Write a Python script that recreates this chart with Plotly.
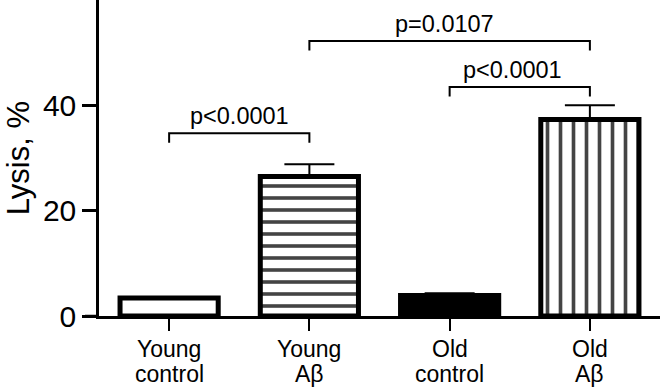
import plotly.graph_objects as go

# ---- data ----
categories = ["Young control", "Young Aβ", "Old control", "Old Aβ"]
label_line1 = ["Young", "Young", "Old", "Old"]
label_line2 = ["control", "Aβ", "control", "Aβ"]
lysis = [3.4, 26.5, 3.9, 37.3]
sem = [0.0, 2.3, 0.4, 2.7]
y_ticks = [0, 20, 40]
y_title = "Lysis, %"

# comparisons: (left index, right index, bracket height, label)
cmp_left = [0, 2, 1]
cmp_right = [1, 3, 3]
cmp_height = [34.7, 43.5, 52.2]
cmp_label = ["p<0.0001", "p<0.0001", "p=0.0107"]
cmp_label_x = [0.5, 2.45, 1.96]

FONT = "Liberation Sans, Arial, sans-serif"

fig = go.Figure()
fig.add_trace(go.Bar(
    x=list(range(len(categories))),
    y=lysis,
    width=0.7,
    marker=dict(
        color=["white", "white", "black", "white"],
        line=dict(color="black", width=5),
        pattern=dict(
            shape=["", "-", "", "|"],
            fgcolor="black",
            bgcolor="white",
            fgopacity=1,
            size=[10, 12, 10, 13],
            solidity=[0.2, 0.3, 0.2, 0.28],
        ),
    ),
    error_y=dict(type="data", symmetric=False, array=sem,
                 arrayminus=[0] * len(sem), thickness=2, width=25, color="black"),
    showlegend=False,
))

shapes = []
leg = 1.8
for l, r, h in zip(cmp_left, cmp_right, cmp_height):
    shapes.append(dict(type="path", xref="x", yref="y",
                       path=f"M {l},{h - leg} L {l},{h} L {r},{h} L {r},{h - leg}",
                       line=dict(color="black", width=2)))
# extend x-axis line left to meet y tick length
shapes.append(dict(type="line", xref="paper", yref="paper", x0=-14 / 561, x1=0,
                   y0=0, y1=0, line=dict(color="black", width=2.5)))

annotations = []
for lx, h, t in zip(cmp_label_x, cmp_height, cmp_label):
    annotations.append(dict(x=lx, y=h + 3.3, xref="x", yref="y", text=t,
                            showarrow=False, font=dict(size=23.5, color="black", family=FONT),
                            xanchor="center", yanchor="middle"))
for i, (a, b) in enumerate(zip(label_line1, label_line2)):
    annotations.append(dict(x=i, y=-0.103, xref="x", yref="paper", text=a,
                            showarrow=False, font=dict(size=23, color="black", family=FONT),
                            xanchor="center", yanchor="middle"))
    annotations.append(dict(x=i, y=-0.184, xref="x", yref="paper", text=b,
                            showarrow=False, font=dict(size=23, color="black", family=FONT),
                            xanchor="center", yanchor="middle"))
annotations.append(dict(x=-0.144, y=0.5, xref="paper", yref="paper", text=y_title,
                        textangle=-90, showarrow=False,
                        font=dict(size=31, color="black", family=FONT),
                        xanchor="center", yanchor="middle"))

fig.update_layout(
    width=660, height=387,
    margin=dict(l=99, r=0, t=0, b=71),
    plot_bgcolor="white", paper_bgcolor="white",
    font=dict(family=FONT, color="black"),
    shapes=shapes, annotations=annotations,
    bargap=0.3,
)
fig.update_xaxes(range=[-0.5, 3.5], tickvals=list(range(len(categories))),
                 ticktext=[""] * len(categories), showticklabels=False,
                 ticks="outside", ticklen=12, tickwidth=2, tickcolor="black",
                 showline=True, linewidth=2.5, linecolor="black", showgrid=False,
                 zeroline=False, fixedrange=True)
fig.update_yaxes(range=[0, 60], tickvals=y_ticks, ticks="outside", ticklen=14,
                 tickwidth=2.5, tickcolor="black", showline=True, linewidth=2.5,
                 linecolor="black", showgrid=False, zeroline=False,
                 tickfont=dict(size=30, color="black", family=FONT))

fig.write_html("out.html", config={"displayModeBar": False},
               post_script="document.body.style.margin='0';")
